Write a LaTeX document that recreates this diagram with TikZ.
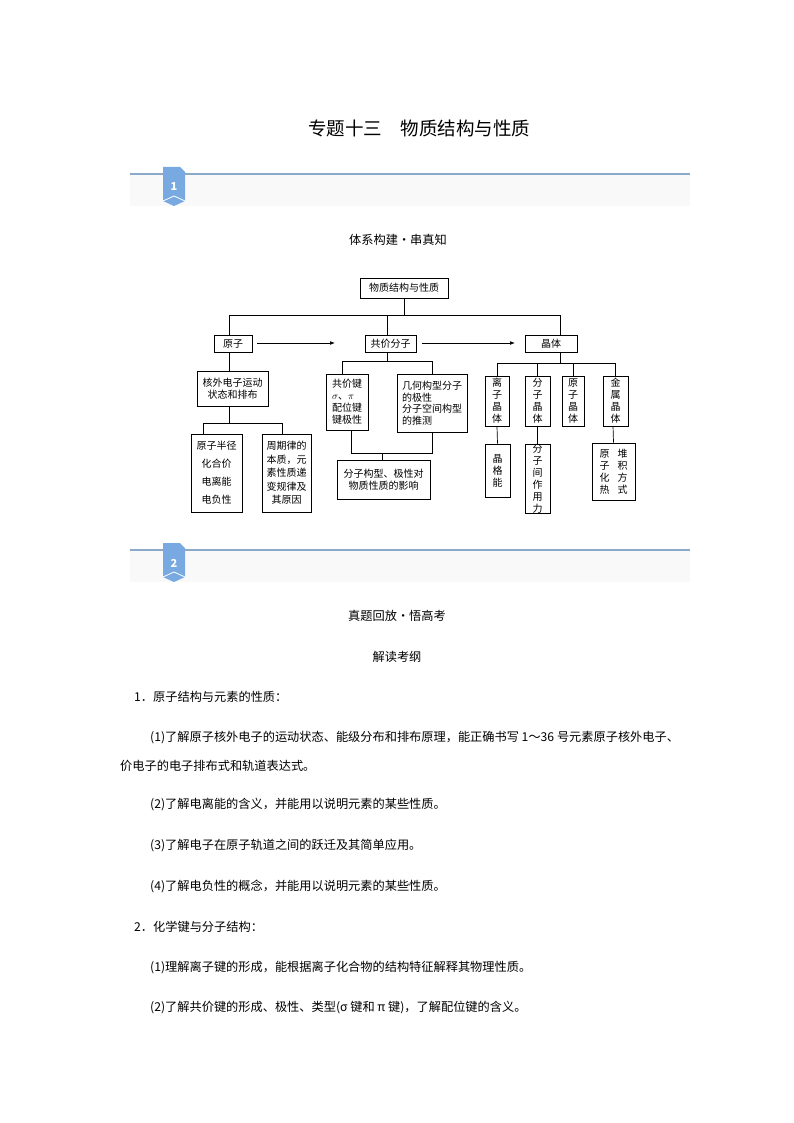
\documentclass[tikz,border=0pt]{standalone}
\usepackage{fontspec}
\setmainfont{Noto Sans CJK SC}
\usetikzlibrary{arrows.meta}
\begin{document}
\begin{tikzpicture}[x=1pt,y=-1pt,
 bx/.style={draw,line width=0.8pt,inner sep=0pt,font=\fontsize{10}{11.5}\selectfont,align=center},
 vt/.style={bx,font=\fontsize{10}{12}\selectfont},
 ln/.style={line width=0.7pt},
 body/.style={anchor=west,font=\fontsize{12.2}{14}\selectfont,inner sep=0pt},
 ctr/.style={font=\fontsize{12.2}{14}\selectfont,inner sep=0pt}]
\useasboundingbox (0,0) rectangle (794,1123);
\node[font=\fontsize{18.5}{20}\selectfont] (title) at (419,128) {专题十三\quad 物质结构与性质};
% bands
\foreach \yy/\nn in {174/1,550/2}{
 \fill[gray!5] (130,\yy) rectangle (690,\yy+32);
 \draw[line width=1.2pt,color={rgb,255:red,140;green,170;blue,200}] (130,\yy) -- (690,\yy);
 \fill[color={rgb,255:red,120;green,170;blue,225}] (163,\yy-7) -- (180,\yy-7) -- (185,\yy-2) -- (185,\yy+27) -- (174,\yy+32) -- (163,\yy+27) -- cycle;
 \draw[white,line width=0.8pt] (163,\yy+27) -- (174,\yy+22) -- (185,\yy+27);
 \node[white,font=\fontsize{11}{12}\selectfont\bfseries] at (174,\yy+13) {\nn};
}
\node[ctr] (s1) at (398,240) {体系构建·串真知};
% diagram
\node[bx,minimum width=88,minimum height=20] (root) at (404,288) {物质结构与性质};
\node[bx,minimum width=38,minimum height=17] (yz) at (233,343.5) {原子};
\node[bx,minimum width=51,minimum height=17] (gj) at (390.5,343.5) {共价分子};
\node[bx,minimum width=52,minimum height=17] (jt) at (551,343.5) {晶体};
\draw[ln] (root.south) -- (404,315) coordinate (h1);
\draw[ln] (229,315) -- (560,315);
\draw[ln] (229,315) -- (229,335);
\draw[ln] (387,315) -- (387,335);
\draw[ln] (560,315) -- (560,335);
\draw[ln,-{Latex[length=5pt]}] (257,343) -- (335,343);
\draw[ln,-{Latex[length=5pt]}] (422,343) -- (515,343);
% atom branch
\node[bx,minimum width=71,minimum height=35] (hw) at (232.5,388.5) {核外电子运动\\状态和排布};
\draw[ln] (229,352) -- (229,371);
\draw[ln] (229,406) -- (229,423);
\draw[ln] (203,423) -- (282,423);
\node[bx,minimum width=51,minimum height=78,font=\fontsize{10}{18}\selectfont] (bj) at (216.5,473) {原子半径\\化合价\\电离能\\电负性};
\node[bx,minimum width=49,minimum height=78,font=\fontsize{10}{13.5}\selectfont] (zq) at (286.5,473) {周期律的\\本质，元\\素性质递\\变规律及\\其原因};
\draw[ln] (203,423) -- (203,434);
\draw[ln] (282,423) -- (282,434);
% covalent branch
\draw[ln] (387,352) -- (387,361);
\draw[ln] (342,361) -- (432,361);
\draw[ln] (342,361) -- (342,374);
\draw[ln] (432,361) -- (432,374);
\node[bx,minimum width=42,minimum height=56,align=left,font=\fontsize{10}{12}\selectfont] (gjj) at (347,402) {共价键\\$\sigma$、$\pi$\\配位键\\键极性};
\node[bx,minimum width=70,minimum height=58,align=left,font=\fontsize{10}{11.5}\selectfont] (jh) at (432,403) {几何构型分子\\的极性\\分子空间构型\\的推测};
\draw[ln] (351,430) -- (351,453) -- (432,453) -- (432,432);
\draw[ln] (382,453) -- (382,460);
\node[bx,minimum width=93,minimum height=39] (fz) at (383.5,479.5) {分子构型、极性对\\物质性质的影响};
% crystal branch
\draw[ln] (560,352) -- (560,363);
\draw[ln] (497,363) -- (615,363);
\foreach \xx in {497,537,573,615} \draw[ln] (\xx,363) -- (\xx,376);
\node[vt,minimum width=24,minimum height=50] (lz) at (497,401) {离\\子\\晶\\体};
\node[vt,minimum width=25,minimum height=50] (fzj) at (537.5,401) {分\\子\\晶\\体};
\node[vt,minimum width=22,minimum height=50] (yzj) at (573,401) {原\\子\\晶\\体};
\node[vt,minimum width=25,minimum height=50] (js) at (615.5,401) {金\\属\\晶\\体};
\node[vt,minimum width=25,minimum height=53] (jg) at (497.5,470.5) {晶\\格\\能};
\node[vt,minimum width=25,minimum height=69] (fzl) at (537.5,478.5) {分\\子\\间\\作\\用\\力};
\node[vt,minimum width=43,minimum height=57] (dj) at (613.5,471.5) {原\hspace{8pt}堆\\子\hspace{8pt}积\\化\hspace{8pt}方\\热\hspace{8pt}式};
\draw[ln] (lz.south) -- (jg.north);
\draw[ln] (fzj.south) -- (fzl.north);
\draw[ln] (613,426) -- (dj.north);
% text
\node[ctr] (s2) at (397,616) {真题回放·悟高考};
\node[ctr] (s3) at (397,657) {解读考纲};
\node[body] (t1) at (134,697) {1．原子结构与元素的性质：};
\node[body] (t2) at (150,738) {(1)了解原子核外电子的运动状态、能级分布和排布原理，能正确书写 1～36 号元素原子核外电子、};
\node[body] (t3) at (120,766) {价电子的电子排布式和轨道表达式。};
\node[body] (t4) at (150,805) {(2)了解电离能的含义，并能用以说明元素的某些性质。};
\node[body] (t5) at (150,846) {(3)了解电子在原子轨道之间的跃迁及其简单应用。};
\node[body] (t6) at (150,886) {(4)了解电负性的概念，并能用以说明元素的某些性质。};
\node[body] (t7) at (134,927) {2．化学键与分子结构：};
\node[body] (t8) at (150,968) {(1)理解离子键的形成，能根据离子化合物的结构特征解释其物理性质。};
\node[body] (t9) at (150,1008) {(2)了解共价键的形成、极性、类型(σ 键和 π 键)，了解配位键的含义。};
\end{tikzpicture}
\end{document}
